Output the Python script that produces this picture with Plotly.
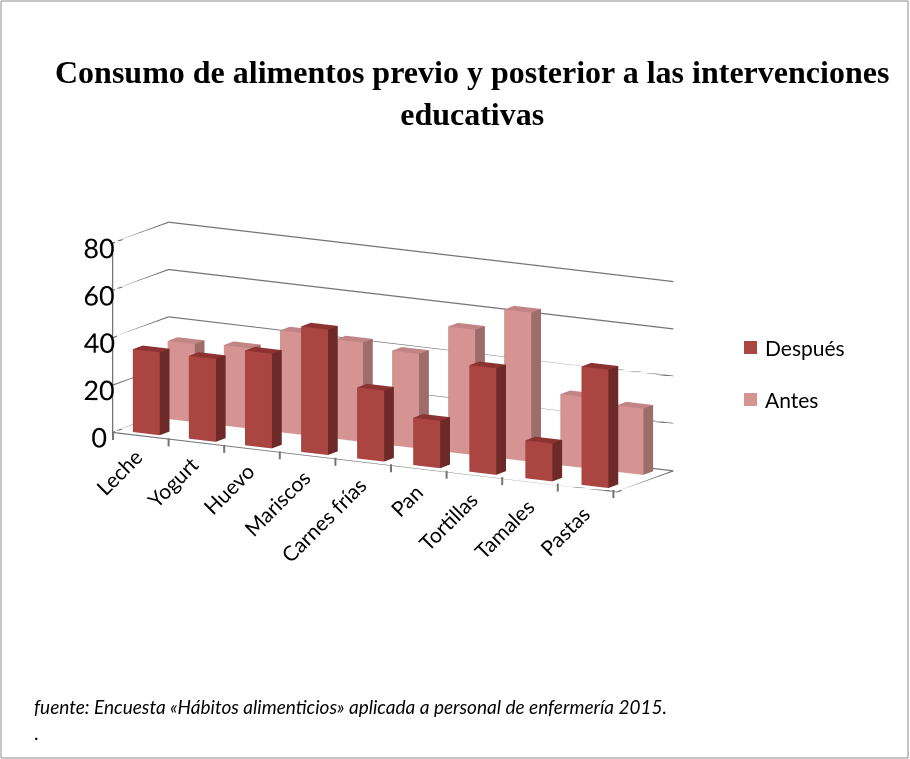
import plotly.graph_objects as go

# Datos
categorias = ["Leche", "Yogurt", "Huevo", "Mariscos", "Carnes frías",
              "Pan", "Tortillas", "Tamales", "Pastas"]
despues = [35, 35, 40, 53, 30, 20, 45, 16, 50]
antes = [33, 34, 43, 42, 40, 53, 63, 30, 28]
series = ["Después", "Antes"]
eje_z = [0, 20, 40, 60, 80]

# Colores por cara de las columnas: frente, lado derecho, techo
colores = {
    "Después": {"frente": "#AB4542", "lado": "#6E2A28", "techo": "#8C3331"},
    "Antes": {"frente": "#D59391", "lado": "#9E6C6B", "techo": "#C08584"},
}

ANCHO = 0.48   # ancho de columna en unidades de categoría
FONDO = 0.28   # profundidad de columna en unidades de serie
X_RANGO = [-0.5, len(categorias) - 0.5]
Y_RANGO = [-0.3, 1.3]
Z_RANGO = [0, 80]


def columnas(valores, fila, paleta):
    """Malla de prismas rectangulares, uno por categoría, en la fila indicada."""
    xs, ys, zs, ii, jj, kk, fc = [], [], [], [], [], [], []
    for idx, h in enumerate(valores):
        x0, x1 = idx - ANCHO / 2, idx + ANCHO / 2
        y0, y1 = fila - FONDO / 2, fila + FONDO / 2
        base = len(xs)
        pts = [(x0, y0, 0), (x1, y0, 0), (x1, y1, 0), (x0, y1, 0),
               (x0, y0, h), (x1, y0, h), (x1, y1, h), (x0, y1, h)]
        for p in pts:
            xs.append(p[0]); ys.append(p[1]); zs.append(p[2])
        caras = [
            ((0, 1, 5), "frente"), ((0, 5, 4), "frente"),
            ((1, 2, 6), "lado"), ((1, 6, 5), "lado"),
            ((4, 5, 6), "techo"), ((4, 6, 7), "techo"),
            ((3, 2, 6), "lado"), ((3, 6, 7), "lado"),
            ((0, 3, 7), "lado"), ((0, 7, 4), "lado"),
            ((0, 1, 2), "lado"), ((0, 2, 3), "lado"),
        ]
        for (a, b, c), cara in caras:
            ii.append(base + a); jj.append(base + b); kk.append(base + c)
            fc.append(paleta[cara])
    return go.Mesh3d(
        x=xs, y=ys, z=zs, i=ii, j=jj, k=kk, facecolor=fc,
        flatshading=True,
        lighting=dict(ambient=1.0, diffuse=0.0, specular=0.0, roughness=1.0, fresnel=0.0),
        hoverinfo="skip", showlegend=False, showscale=False,
    )


gris = "#747474"
fuente = "Lato, 'Open Sans', sans-serif"

fig = go.Figure()

# Paredes, piso y líneas de división del gráfico 3D
lx, ly, lz = [], [], []


def segmento(a, b):
    lx.extend([a[0], b[0], None]); ly.extend([a[1], b[1], None]); lz.extend([a[2], b[2], None])


xa, xb = X_RANGO
ya, yb = Y_RANGO
for v in eje_z:
    segmento((xa, ya, v), (xa, yb, v))   # pared izquierda
    segmento((xa, yb, v), (xb, yb, v))   # pared del fondo
segmento((xa, ya, Z_RANGO[0]), (xa, ya, Z_RANGO[1]))   # eje vertical
segmento((xa, ya, 0), (xb, ya, 0))                     # borde frontal del piso
segmento((xb, ya, 0), (xb, yb, 0))                     # borde derecho del piso
fig.add_trace(go.Scatter3d(x=lx, y=ly, z=lz, mode="lines",
                           line=dict(color=gris, width=2.5),
                           hoverinfo="skip", showlegend=False))

# La serie "Antes" va al fondo (fila 1) y "Después" al frente (fila 0)
fig.add_trace(columnas(antes, 1, colores["Antes"]))
fig.add_trace(columnas(despues, 0, colores["Después"]))

r_ojo = 2.5
ejes_comunes = dict(showgrid=False, showline=False, zeroline=False, showspikes=False,
                    showbackground=False, title=dict(text=""))
fig.update_layout(
    width=910, height=759,
    margin=dict(l=0, r=0, t=0, b=0),
    paper_bgcolor="white",
    showlegend=False,
    scene=dict(
        domain=dict(x=[0.032, 0.832], y=[0.240, 0.820]),
        aspectmode="manual",
        aspectratio=dict(x=2.63, y=0.52, z=0.88),
        camera=dict(
            eye=dict(x=0.478 * r_ojo, y=-0.853 * r_ojo, z=0.21 * r_ojo),
            center=dict(x=0, y=0, z=0),
            up=dict(x=0, y=0, z=1),
            projection=dict(type="orthographic"),
        ),
        xaxis=dict(range=X_RANGO, showticklabels=False, ticks="", **ejes_comunes),
        yaxis=dict(range=Y_RANGO, showticklabels=False, ticks="", **ejes_comunes),
        zaxis=dict(
            range=Z_RANGO, tickvals=eje_z, ticktext=[str(v) for v in eje_z],
            tickangle=0, tickfont=dict(family=fuente, size=18, color="#000000"),
            ticks="outside", ticklen=18, tickcolor="rgba(0,0,0,0)",
            **ejes_comunes,
        ),
    ),
)

# Marcas de división bajo el borde frontal del piso
for k in range(len(categorias) + 1):
    tx = 113 + k * 55.6
    ty = 432 + k * 6.45
    fig.add_shape(
        type="line", xref="paper", yref="paper",
        x0=tx / 910, x1=tx / 910, y0=1 - ty / 759, y1=1 - (ty + 8) / 759,
        line=dict(color=gris, width=2),
    )

# Etiquetas de categoría inclinadas bajo el borde frontal del piso
for n, nombre in enumerate(categorias):
    px = 150 + n * 55.9
    py = 441 + n * 7.1
    fig.add_annotation(
        x=px / 910, y=1 - py / 759, xref="paper", yref="paper",
        text=nombre, textangle=-45, showarrow=False,
        xanchor="right", yanchor="top",
        font=dict(family=fuente, size=21, color="#000000"),
    )

# Título
fig.add_annotation(
    x=472 / 910, y=1 - 93 / 759, xref="paper", yref="paper",
    text="<b>Consumo de alimentos previo y posterior a las intervenciones<br>educativas</b>",
    showarrow=False, align="center", xanchor="center", yanchor="middle",
    font=dict(family="'Liberation Serif', 'Times New Roman', serif", size=32, color="#000000"),
)

# Leyenda
for nombre, yc in [("Después", 347.5), ("Antes", 399.5)]:
    fig.add_shape(
        type="rect", xref="paper", yref="paper",
        x0=744 / 910, x1=757 / 910, y0=1 - (yc + 6.5) / 759, y1=1 - (yc - 6.5) / 759,
        fillcolor=colores[nombre]["frente"], line=dict(width=0),
    )
    fig.add_annotation(
        x=763 / 910, y=1 - yc / 759, xref="paper", yref="paper",
        text=nombre, showarrow=False, xanchor="left", yanchor="middle",
        font=dict(family=fuente, size=21, color="#000000"),
    )

# Nota de fuente
fig.add_annotation(
    x=32 / 910, y=1 - 706 / 759, xref="paper", yref="paper",
    text="<i>fuente: Encuesta «Hábitos alimenticios» aplicada a personal de enfermería 2015.</i>",
    showarrow=False, xanchor="left", yanchor="middle",
    font=dict(family=fuente, size=19, color="#000000"),
)
fig.add_annotation(
    x=32 / 910, y=1 - 732 / 759, xref="paper", yref="paper",
    text=".", showarrow=False, xanchor="left", yanchor="middle",
    font=dict(family=fuente, size=19, color="#000000"),
)

# Borde del área del gráfico
fig.add_shape(
    type="rect", xref="paper", yref="paper", x0=1 / 910, x1=908 / 910, y0=1 / 759, y1=758 / 759,
    line=dict(color="#8C8C8C", width=1), fillcolor="rgba(0,0,0,0)",
)

fig.write_html("out.html")
